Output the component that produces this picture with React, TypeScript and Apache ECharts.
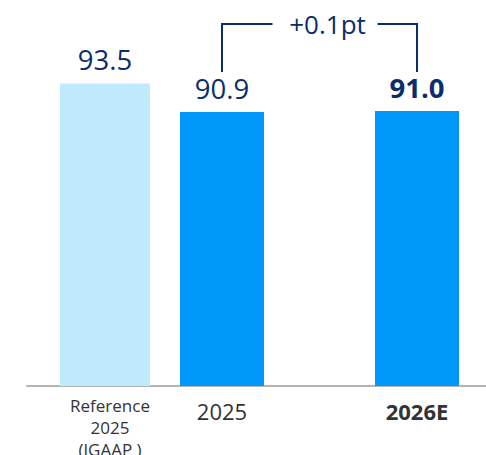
import React, { useEffect, useRef } from 'react';
import * as echarts from 'echarts';

// Tick labels along the category axis (blank entries are spacer slots)
const refCategory = 'Reference\n2025\n(JGAAP )';
const categories = ['', '', refCategory, '', '', '2025', '', '', '', '', '2026E', '', ''];
// Reference bar
const refCategories = [refCategory];
const refValues = [93.5];
// Main bars
const mainCategories = ['2025', '2026E'];
const mainValues = [90.9, 91.0];
const boldCategories = ['2026E'];
const changeLabel = '+0.1pt';

const NAVY = '#0B2D6B';
const LIGHT = '#BFEAFE';
const BLUE = '#0099F9';
const FONT = "'Open Sans', 'Noto Sans', sans-serif";

export default function App() {
  const ref = useRef<HTMLDivElement>(null);
  useEffect(() => {
    if (!ref.current) return;
    const chart = echarts.init(ref.current, null, { renderer: 'svg' });
    const refData = categories.map((c) => {
      const i = refCategories.indexOf(c);
      return i >= 0 ? refValues[i] : null;
    });
    const mainData = categories.map((c) => {
      const i = mainCategories.indexOf(c);
      if (i < 0) return null;
      const bold = boldCategories.includes(c);
      return { value: mainValues[i], label: { fontWeight: bold ? 'bold' : 'normal' } };
    });
    const axisData = categories.map((c) => {
      if (c === refCategory) {
        return { value: c, textStyle: { fontSize: 17, lineHeight: 22, padding: [0, 0, 0, 10] } };
      }
      return {
        value: c,
        textStyle: { fontSize: 22, lineHeight: 34, fontWeight: boldCategories.includes(c) ? 'bold' : 'normal' },
      };
    });
    const xBase = {
      type: 'category' as const,
      data: axisData,
      boundaryGap: false,
      axisTick: { show: false },
    };
    const labelCommon = {
      show: true,
      position: 'top' as const,
      distance: 10,
      fontSize: 27.5,
      fontFamily: FONT,
      color: NAVY,
      formatter: (p: any) => Number(p.value).toFixed(1),
    };
    chart.setOption({
      animation: false,
      grid: { left: 27, width: 468, top: 12, bottom: 69, outerBoundsMode: 'none', containLabel: false },
      xAxis: [
        {
          ...xBase,
          axisLine: { show: true, lineStyle: { color: '#B4B4B4', width: 2 } },
          axisLabel: {
            interval: 0,
            hideOverlap: false,
            margin: 8,
            color: '#333333',
            fontFamily: FONT,
            align: 'center',
            verticalAlign: 'top',
          },
        },
        { ...xBase, show: false },
      ],
      yAxis: {
        type: 'value',
        min: 66,
        max: 100,
        show: false,
        splitLine: { show: false },
      },
      series: [
        {
          type: 'bar',
          xAxisIndex: 0,
          data: refData,
          barWidth: 90,
          itemStyle: { color: LIGHT },
          label: labelCommon,
        },
        {
          type: 'bar',
          xAxisIndex: 1,
          data: mainData,
          barWidth: 84,
          itemStyle: { color: BLUE },
          label: labelCommon,
        },
      ],
    });

    const x1 = chart.convertToPixel({ xAxisIndex: 1 }, categories.indexOf(mainCategories[0])) as number;
    const x2 = chart.convertToPixel({ xAxisIndex: 1 }, categories.indexOf(mainCategories[1])) as number;
    const yTop = 24;
    const yBottom = 72;
    const tc = (x1 + x2) / 2 + 8;
    chart.setOption({
      graphic: [
        {
          type: 'polyline',
          shape: { points: [[x1, yBottom], [x1, yTop], [tc - 55, yTop]] },
          style: { stroke: NAVY, lineWidth: 2, fill: 'none' },
        },
        {
          type: 'polyline',
          shape: { points: [[tc + 50, yTop], [x2, yTop], [x2, yBottom]] },
          style: { stroke: NAVY, lineWidth: 2, fill: 'none' },
        },
        {
          type: 'text',
          x: tc,
          y: yTop,
          style: {
            text: changeLabel,
            fill: NAVY,
            fontSize: 26,
            fontFamily: FONT,
            textAlign: 'center',
            textVerticalAlign: 'middle',
          },
        },
      ],
    });
    return () => chart.dispose();
  }, []);
  return <div ref={ref} style={{ width: 486, height: 455, position: 'absolute', left: 0, top: 0 }} />;
}
